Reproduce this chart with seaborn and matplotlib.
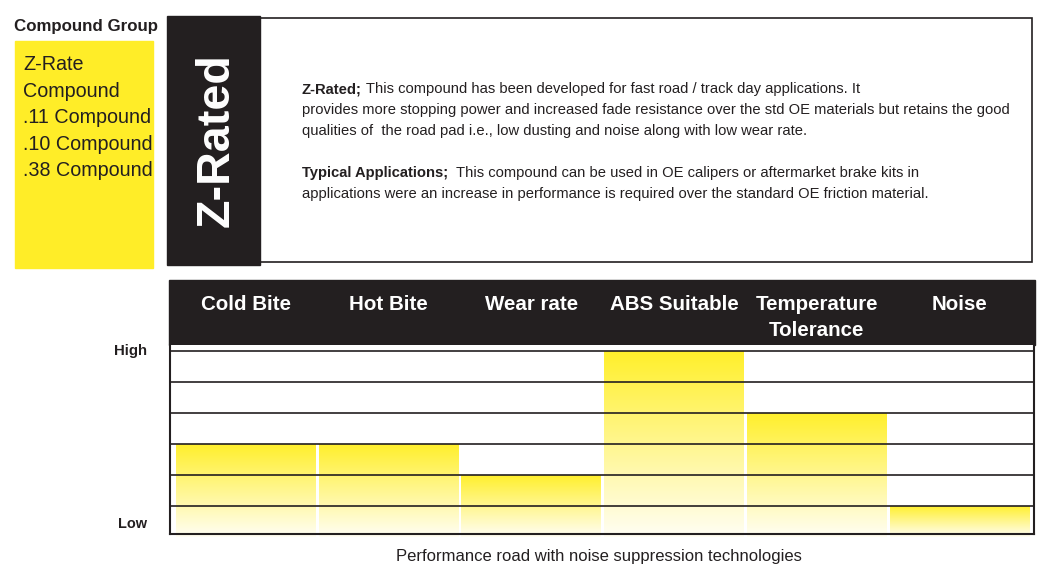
import numpy as np
import pandas as pd
import seaborn as sns
import matplotlib.pyplot as plt
from matplotlib.colors import LinearSegmentedColormap
from matplotlib.patches import Rectangle
from matplotlib.transforms import blended_transform_factory

categories = ["Cold Bite", "Hot Bite", "Wear rate", "ABS Suitable", "Temperature\nTolerance", "Noise"]
ratings = [3, 3, 2, 6, 4, 1]
levels = [1, 2, 3, 4, 5, 6]
compounds = ["Z-Rate", "Compound", ".11 Compound", ".10 Compound", ".38 Compound"]
caption = "Performance road with noise suppression technologies"

sns.set_theme(style="white")
plt.rcParams["font.family"] = ["Liberation Sans", "DejaVu Sans"]

DARK = "#231f20"
YELLOW = "#ffed28"
W, H = 1056, 585

fig = plt.figure(figsize=(W / 100, H / 100), dpi=100)
fig.patch.set_facecolor("white")
renderer = fig.canvas.get_renderer()


def fx(x):
    return x / W


def fy(y):
    return 1 - y / H


def fit(t, width_px, use_height=False):
    # scale font so the text spans the width measured on the reference
    bb = t.get_window_extent(renderer)
    size = bb.height if use_height else bb.width
    t.set_fontsize(t.get_fontsize() * width_px / size)
    return t.get_fontsize()


# chart axes
ax = fig.add_axes([fx(170), fy(534), fx(1034) - fx(170), fy(345) - fy(534)])
df = pd.DataFrame({"cat": categories, "val": ratings})
sns.barplot(data=df, x="cat", y="val", ax=ax, width=0.98, color=YELLOW, saturation=1)

cmap = LinearSegmentedColormap.from_list("fade", ["#fffef4", "#ffef2a"])
grad = np.linspace(0, 1, 256).reshape(-1, 1)
for p in ax.patches:
    x0, w, h = p.get_x(), p.get_width(), p.get_height()
    p.set_facecolor("none")
    p.set_edgecolor("none")
    im = ax.imshow(grad, extent=[x0, x0 + w, 0, h], origin="lower", aspect="auto",
                   cmap=cmap, zorder=1)
    im.set_clip_path(p)

ax.set_xlim(-0.53, 5.52)
ax.set_ylim(0.1, 6.19)
for lv in levels:
    ax.axhline(lv, color=DARK, lw=1.2, zorder=3)
ax.set_xticks([])
ax.set_yticks([])
ax.set_xlabel("")
ax.set_ylabel("")
for s in ["left", "bottom", "right"]:
    ax.spines[s].set_color(DARK)
    ax.spines[s].set_linewidth(1.5)
ax.spines["top"].set_visible(False)

# header bar with column names
fig.patches.append(Rectangle((fx(169), fy(345)), fx(1035) - fx(169), fy(280) - fy(345),
                             transform=fig.transFigure, color=DARK, zorder=-1))
tr = blended_transform_factory(ax.transData, fig.transFigure)
probe = fig.text(0, 0, categories[3], fontsize=15, fontweight="bold")
hs = fit(probe, 116) * 1.12
probe.remove()
for i, c in enumerate(categories):
    for k, line in enumerate(c.split("\n")):
        ax.text(i, fy(304 + k * 26), line, transform=tr, ha="center", va="center",
                color="white", fontsize=hs, fontweight="bold", clip_on=False, zorder=5)

t = fig.text(fx(147), fy(351), "High", ha="right", va="center", fontsize=12,
             fontweight="bold", color=DARK)
fit(t, 33)
t = fig.text(fx(147), fy(524), "Low", ha="right", va="center", fontsize=12,
             fontweight="bold", color=DARK)
fit(t, 29)
t = fig.text(fx(599), fy(557), caption, ha="center", va="center", fontsize=13, color=DARK)
fit(t, 404)

# compound group panel
t = fig.text(fx(14), fy(27), "Compound Group", ha="left", va="center", fontsize=13,
             fontweight="bold", color=DARK)
fit(t, 144)
fig.patches.append(Rectangle((fx(15), fy(268)), fx(153) - fx(15), fy(41) - fy(268),
                             transform=fig.transFigure, color=YELLOW))
items = [fig.text(fx(23), fy(65 + i * 26.4), c, ha="left", va="center", fontsize=16,
                  color=DARK) for i, c in enumerate(compounds)]
cs = fit(items[2], 123) * 1.04
for t in items:
    t.set_fontsize(cs)

# Z-Rated block and description box
fig.patches.append(Rectangle((fx(260), fy(262)), fx(1032) - fx(260), fy(18) - fy(262),
                             transform=fig.transFigure, facecolor="white", edgecolor=DARK,
                             lw=1.2, zorder=-1))
fig.patches.append(Rectangle((fx(167), fy(265)), fx(260) - fx(167), fy(16) - fy(265),
                             transform=fig.transFigure, color=DARK, zorder=-1))
t = fig.text(fx(217), fy(140), "Z-Rated", rotation=90, ha="center", va="center",
             fontsize=34, fontweight="bold", color="white")
fit(t, 174, use_height=True)

desc = [
    ("Z-Rated;", " This compound has been developed for fast road / track day applications. It", 93),
    ("", "provides more stopping power and increased fade resistance over the std OE materials but retains the good", 114),
    ("", "qualities of  the road pad i.e., low dusting and noise along with low wear rate.", 135),
    ("Typical Applications;", "  This compound can be used in OE calipers or aftermarket brake kits in", 177),
    ("", "applications were an increase in performance is required over the standard OE friction material.", 198),
]
probe = fig.text(0, 0, desc[1][1], fontsize=11)
ds = fit(probe, 700)
probe.remove()
for bold, rest, y in desc:
    x = 302
    if bold:
        t1 = fig.text(fx(x), fy(y), bold, ha="left", va="baseline", fontsize=ds,
                      fontweight="bold", color=DARK)
        x = x + t1.get_window_extent(renderer).width
    fig.text(fx(x), fy(y), rest, ha="left", va="baseline", fontsize=ds, color=DARK)

fig.savefig("out.png", dpi=100)
